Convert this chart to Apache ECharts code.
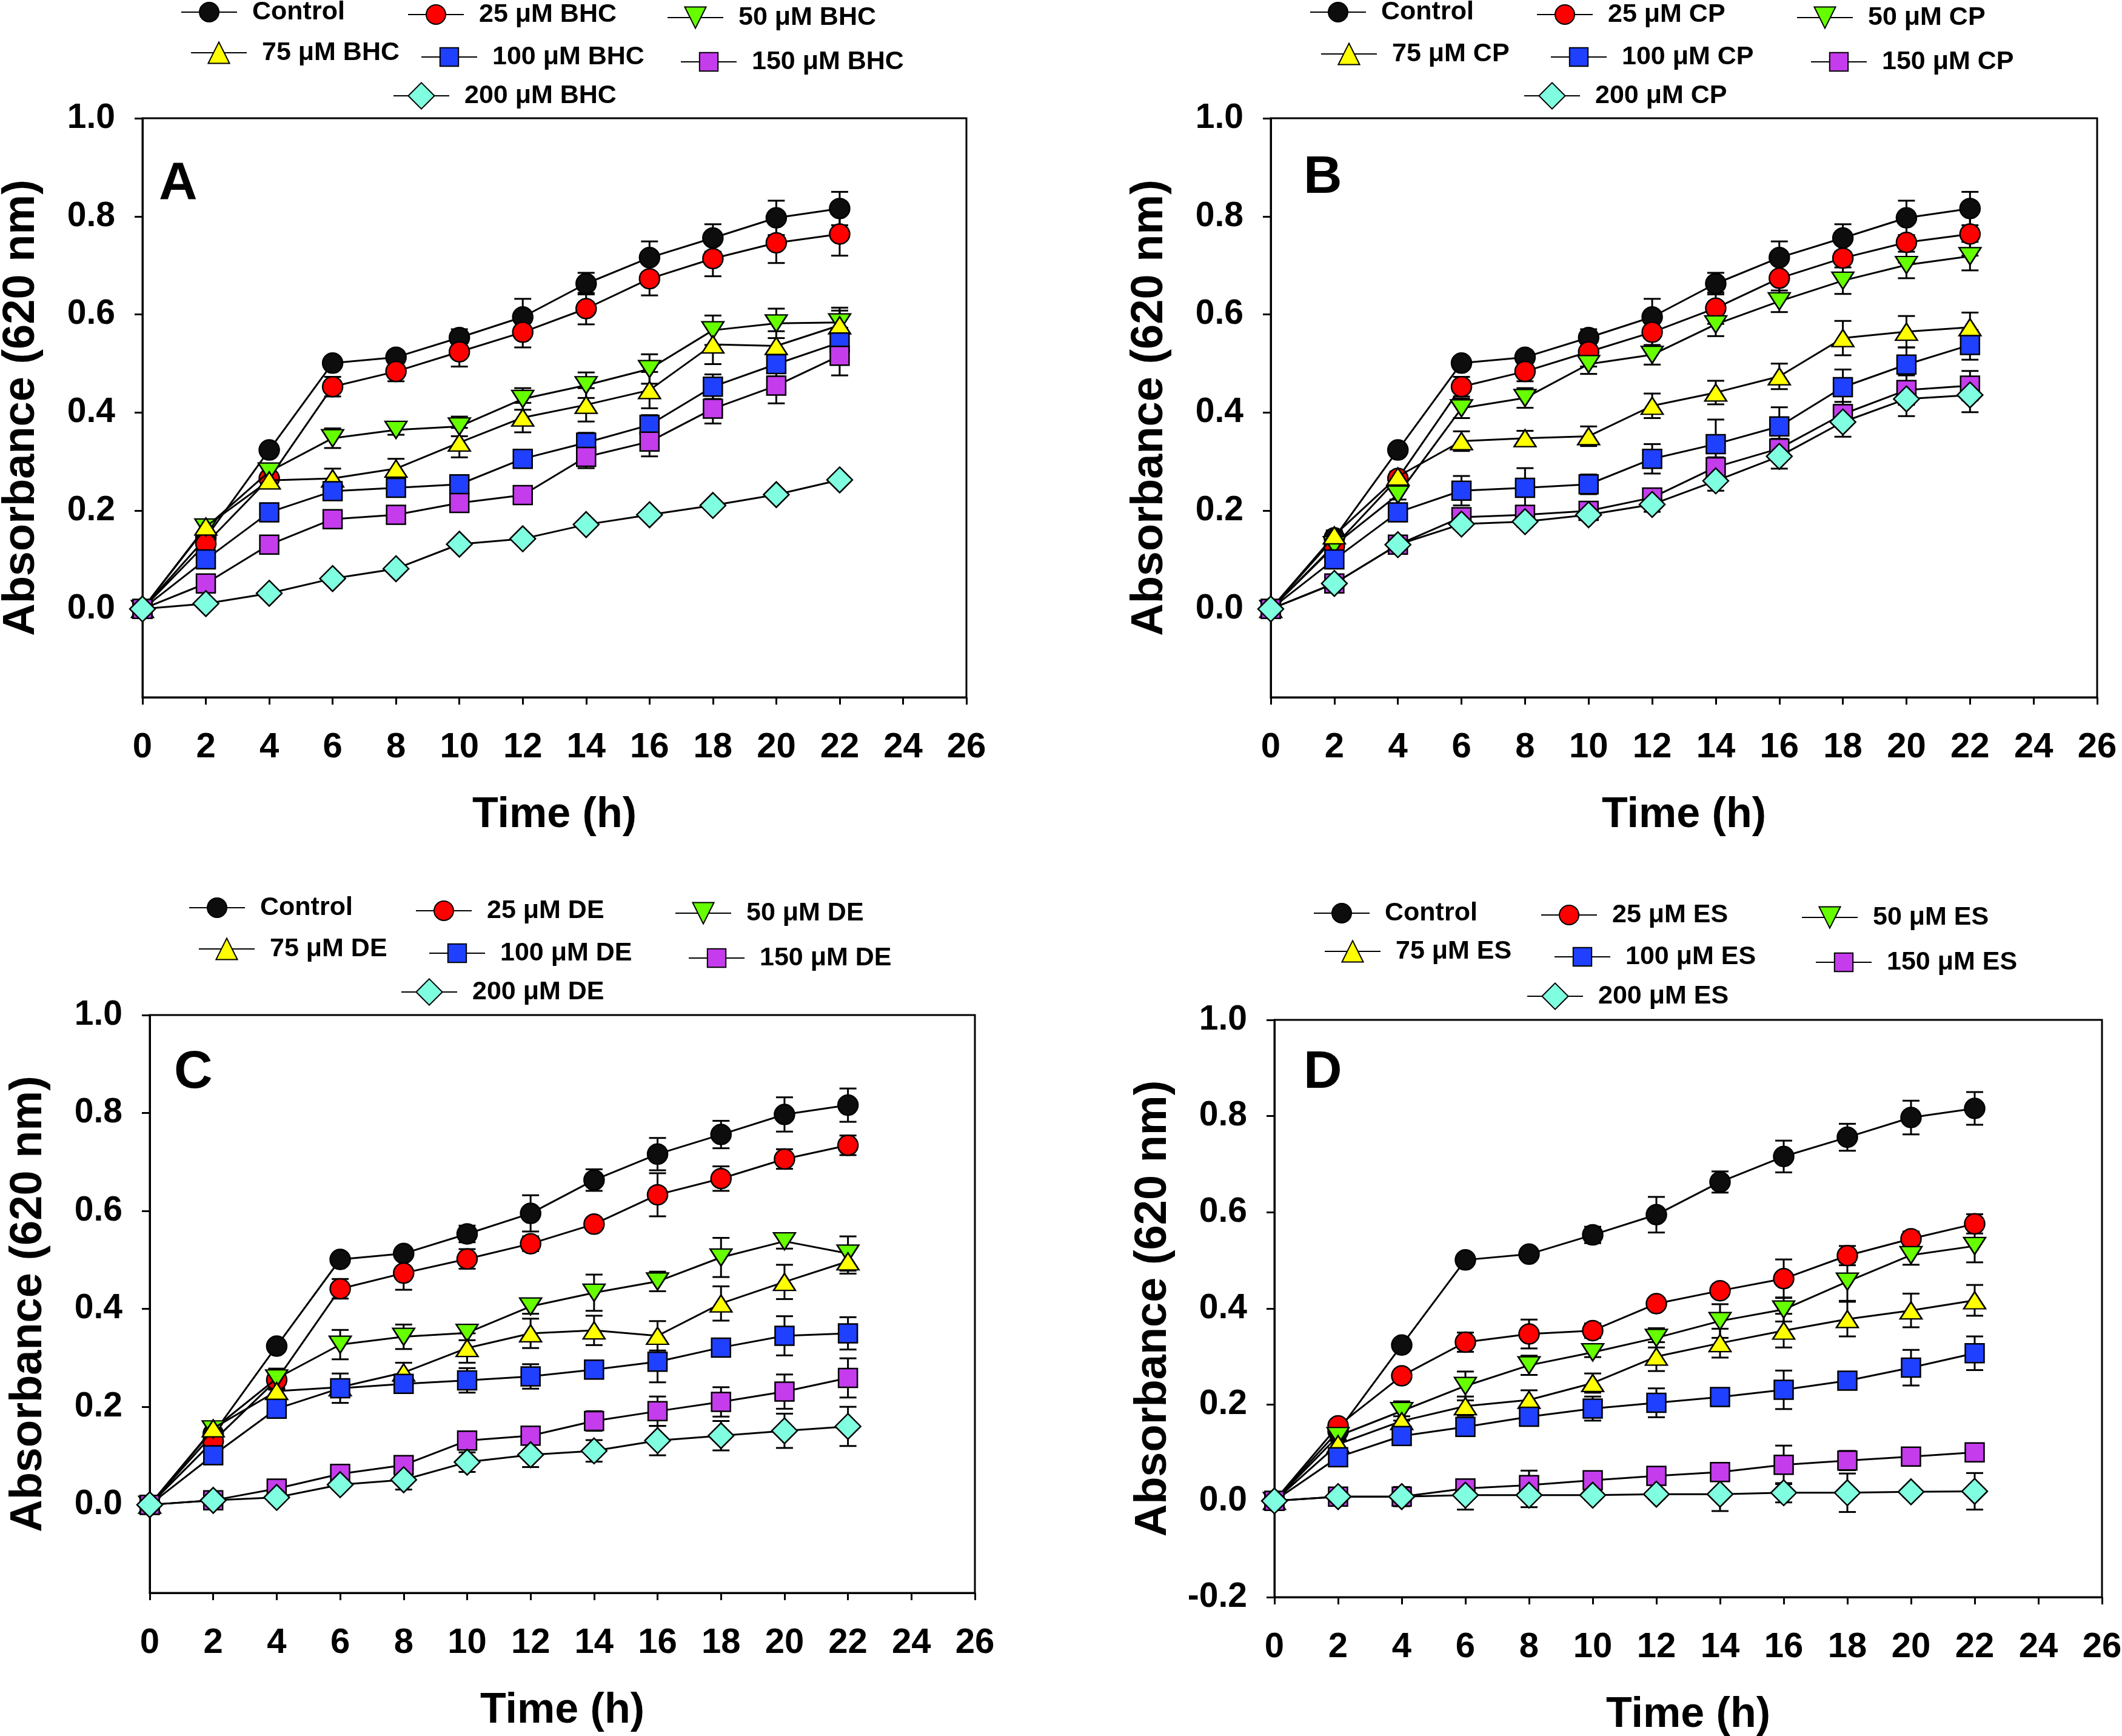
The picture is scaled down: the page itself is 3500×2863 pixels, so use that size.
<!DOCTYPE html>
<html>
<head>
<meta charset="utf-8">
<script src="https://cdn.jsdelivr.net/npm/echarts@6/dist/echarts.min.js"></script>
<style>html,body{margin:0;padding:0;background:#fff}#c{width:3500px;height:2863px}</style>
</head>
<body>
<div id="c"></div>
<script>
// ---------------- DATA ----------------
const time = [0, 2, 4, 6, 8, 10, 12, 14, 16, 18, 20, 22];
const xTicks = [0, 2, 4, 6, 8, 10, 12, 14, 16, 18, 20, 22, 24, 26];
const yTicksABC = [0, 0.2, 0.4, 0.6, 0.8, 1.0];
const yTicksD = [-0.2, 0, 0.2, 0.4, 0.6, 0.8, 1.0];
const seriesLabels = ['Control', '25 μM', '50 μM', '75 μM', '100 μM', '150 μM', '200 μM'];
const panelLetters = ['A', 'B', 'C', 'D'];
const compounds = ['BHC', 'CP', 'DE', 'ES'];

const control = [0, 0.145, 0.324, 0.501, 0.513, 0.553, 0.595, 0.663, 0.716, 0.756, 0.797, 0.816];
const controlErr = [0, 0.01, 0.01, 0.01, 0.01, 0.017, 0.037, 0.022, 0.033, 0.028, 0.035, 0.034];

// Panel A (BHC)
const bhc25 = [0, 0.133, 0.266, 0.453, 0.484, 0.524, 0.564, 0.612, 0.673, 0.714, 0.746, 0.764];
const bhc25Err = [0, 0.01, 0.01, 0.02, 0.02, 0.03, 0.031, 0.032, 0.034, 0.036, 0.041, 0.044];
const bhc50 = [0, 0.166, 0.28, 0.348, 0.365, 0.372, 0.428, 0.456, 0.489, 0.568, 0.582, 0.584];
const bhc50Err = [0, 0.01, 0.01, 0.02, 0.01, 0.02, 0.022, 0.026, 0.03, 0.03, 0.03, 0.03];
const bhc75 = [0, 0.168, 0.262, 0.266, 0.286, 0.339, 0.39, 0.416, 0.446, 0.539, 0.536, 0.578];
const bhc75Err = [0, 0.01, 0.01, 0.02, 0.02, 0.03, 0.03, 0.034, 0.037, 0.04, 0.03, 0.03];
const bhc100 = [0, 0.101, 0.197, 0.24, 0.247, 0.254, 0.306, 0.339, 0.375, 0.453, 0.499, 0.543];
const bhc100Err = [0, 0.01, 0.01, 0.015, 0.015, 0.015, 0.015, 0.02, 0.02, 0.025, 0.025, 0.03];
const bhc150 = [0, 0.052, 0.131, 0.183, 0.192, 0.216, 0.232, 0.31, 0.341, 0.408, 0.455, 0.516];
const bhc150Err = [0, 0.01, 0.01, 0.01, 0.01, 0.01, 0.01, 0.023, 0.03, 0.03, 0.036, 0.04];
const bhc200 = [0, 0.011, 0.032, 0.062, 0.082, 0.132, 0.143, 0.172, 0.192, 0.211, 0.233, 0.263];
const bhc200Err = [0, 0.008, 0.008, 0.008, 0.008, 0.008, 0.008, 0.008, 0.008, 0.008, 0.008, 0.008];

// Panel B (CP)
const cp25 = [0, 0.128, 0.266, 0.453, 0.484, 0.524, 0.564, 0.613, 0.674, 0.715, 0.747, 0.764];
const cp25Err = [0, 0.01, 0.01, 0.02, 0.02, 0.03, 0.031, 0.032, 0.034, 0.036, 0.041, 0.044];
const cp50 = [0, 0.13, 0.233, 0.409, 0.43, 0.499, 0.518, 0.58, 0.627, 0.669, 0.701, 0.719];
const cp50Err = [0, 0.01, 0.01, 0.02, 0.02, 0.02, 0.02, 0.024, 0.022, 0.027, 0.027, 0.029];
const cp75 = [0, 0.15, 0.27, 0.342, 0.348, 0.352, 0.414, 0.441, 0.474, 0.552, 0.565, 0.574];
const cp75Err = [0, 0.01, 0.01, 0.02, 0.015, 0.02, 0.025, 0.024, 0.026, 0.035, 0.032, 0.03];
const cp100 = [0, 0.101, 0.197, 0.241, 0.247, 0.254, 0.306, 0.336, 0.372, 0.452, 0.498, 0.538];
const cp100Err = [0, 0.01, 0.01, 0.03, 0.04, 0.02, 0.03, 0.05, 0.039, 0.036, 0.035, 0.03];
const cp150 = [0, 0.052, 0.131, 0.187, 0.192, 0.2, 0.227, 0.289, 0.327, 0.397, 0.446, 0.455];
const cp150Err = [0, 0.01, 0.01, 0.01, 0.01, 0.01, 0.015, 0.02, 0.02, 0.025, 0.03, 0.03];
const cp200 = [0, 0.052, 0.131, 0.173, 0.178, 0.192, 0.213, 0.261, 0.311, 0.381, 0.428, 0.436];
const cp200Err = [0, 0.01, 0.01, 0.01, 0.01, 0.01, 0.015, 0.02, 0.025, 0.03, 0.035, 0.035];

// Panel C (DE)
const de25 = [0, 0.13, 0.255, 0.441, 0.473, 0.502, 0.533, 0.573, 0.633, 0.666, 0.706, 0.734];
const de25Err = [0, 0.01, 0.02, 0.02, 0.034, 0.02, 0.015, 0.01, 0.044, 0.025, 0.02, 0.02];
const de50 = [0, 0.154, 0.258, 0.327, 0.343, 0.351, 0.405, 0.433, 0.456, 0.505, 0.538, 0.513];
const de50Err = [0, 0.01, 0.02, 0.03, 0.025, 0.015, 0.015, 0.037, 0.02, 0.04, 0.015, 0.035];
const de75 = [0, 0.156, 0.232, 0.24, 0.27, 0.32, 0.35, 0.356, 0.345, 0.411, 0.455, 0.497];
const de75Err = [0, 0.01, 0.02, 0.01, 0.02, 0.03, 0.03, 0.03, 0.03, 0.035, 0.035, 0.025];
const de100 = [0, 0.101, 0.196, 0.238, 0.247, 0.254, 0.262, 0.276, 0.292, 0.321, 0.345, 0.35];
const de100Err = [0, 0.01, 0.01, 0.03, 0.01, 0.025, 0.025, 0.01, 0.042, 0.01, 0.04, 0.033];
const de150 = [0, 0.009, 0.033, 0.063, 0.081, 0.131, 0.141, 0.171, 0.191, 0.21, 0.231, 0.259];
const de150Err = [0, 0.01, 0.01, 0.01, 0.01, 0.01, 0.01, 0.02, 0.03, 0.03, 0.035, 0.04];
const de200 = [0, 0.009, 0.015, 0.041, 0.051, 0.087, 0.102, 0.11, 0.131, 0.141, 0.151, 0.16];
const de200Err = [0, 0.01, 0.01, 0.01, 0.02, 0.02, 0.025, 0.022, 0.03, 0.03, 0.035, 0.04];

// Panel D (ES)
const es25 = [0, 0.156, 0.26, 0.33, 0.347, 0.354, 0.41, 0.437, 0.462, 0.51, 0.545, 0.576];
const es25Err = [0, 0.01, 0.01, 0.02, 0.03, 0.015, 0.01, 0.01, 0.04, 0.02, 0.015, 0.02];
const es50 = [0, 0.135, 0.187, 0.239, 0.282, 0.309, 0.339, 0.374, 0.398, 0.456, 0.511, 0.53];
const es50Err = [0, 0.01, 0.02, 0.03, 0.02, 0.01, 0.02, 0.035, 0.025, 0.04, 0.02, 0.034];
const es75 = [0, 0.118, 0.166, 0.197, 0.21, 0.245, 0.3, 0.328, 0.354, 0.378, 0.396, 0.417];
const es75Err = [0, 0.01, 0.01, 0.02, 0.02, 0.02, 0.03, 0.03, 0.035, 0.036, 0.035, 0.032];
const es100 = [0, 0.091, 0.135, 0.154, 0.175, 0.192, 0.204, 0.216, 0.231, 0.25, 0.277, 0.307];
const es100Err = [0, 0.01, 0.01, 0.01, 0.01, 0.025, 0.03, 0.01, 0.04, 0.01, 0.037, 0.035];
const es150 = [0, 0.009, 0.009, 0.026, 0.033, 0.043, 0.052, 0.06, 0.075, 0.084, 0.092, 0.101];
const es150Err = [0, 0.01, 0.01, 0.01, 0.03, 0.01, 0.01, 0.01, 0.04, 0.02, 0.01, 0.015];
const es200 = [0, 0.009, 0.009, 0.012, 0.012, 0.012, 0.014, 0.014, 0.017, 0.017, 0.019, 0.02];
const es200Err = [0, 0.01, 0.02, 0.03, 0.025, 0.01, 0.01, 0.035, 0.02, 0.04, 0.01, 0.038];

const panelValues = [
  [control, bhc25, bhc50, bhc75, bhc100, bhc150, bhc200],
  [control, cp25, cp50, cp75, cp100, cp150, cp200],
  [control, de25, de50, de75, de100, de150, de200],
  [control, es25, es50, es75, es100, es150, es200]
];
const panelErrors = [
  [controlErr, bhc25Err, bhc50Err, bhc75Err, bhc100Err, bhc150Err, bhc200Err],
  [controlErr, cp25Err, cp50Err, cp75Err, cp100Err, cp150Err, cp200Err],
  [controlErr, de25Err, de50Err, de75Err, de100Err, de150Err, de200Err],
  [controlErr, es25Err, es50Err, es75Err, es100Err, es150Err, es200Err]
];

// ---------------- STYLE / LAYOUT ----------------
const FONT = '"Liberation Sans", Arial, Helvetica, sans-serif';
const colors = ['#0d0d0d', '#ff0000', '#66ff00', '#ffff00', '#1f40ff', '#c43cec', '#80ffe0'];
const symbolList = ['circle', 'circle', 'path://M0,0L10,0L5,10Z', 'triangle', 'rect', 'rect', 'diamond'];
const symbolSizes = [33, 33, [36, 28], [36, 28], 31, 31, 42];
const legendItemH = [40, 40, 44, 44, 38, 38, 54];

const grids = [
  {left: 235, top: 195, width: 1359, height: 955},
  {left: 2096, top: 195, width: 1363, height: 955},
  {left: 247, top: 1674, width: 1361, height: 953},
  {left: 2102, top: 1682, width: 1365, height: 952}
];
const yMins = [-0.18, -0.18, -0.18, -0.2];
const letterPos = [[262, 260], [2150, 250], [287, 1726], [2150, 1726]];
// legend item positions: [line start x, center y]
const legendPos = [
  [[298, 20], [672, 24], [1100, 29], [314, 87], [694, 94], [1122, 102], [648, 161]],
  [[2160, 20], [2534, 24], [2963, 29], [2178, 89], [2557, 94], [2986, 102], [2513, 161]],
  [[311, 1497], [685, 1502], [1113, 1506], [327, 1565], [707, 1572], [1135, 1580], [661, 1639]],
  [[2166, 1506], [2541, 1509], [2971, 1513], [2184, 1569], [2563, 1578], [2994, 1587], [2518, 1646]]
];

function seriesName(p, s) {
  return s === 0 ? 'Control' : seriesLabels[s] + ' ' + compounds[p];
}

const option = {
  animation: false,
  backgroundColor: '#fff',
  grid: [], xAxis: [], yAxis: [], series: [], legend: [], graphic: []
};

grids.forEach((g, p) => {
  option.grid.push(Object.assign({show: true, borderColor: '#000', borderWidth: 3,
    backgroundColor: 'transparent', containLabel: false, outerBoundsMode: 'none'}, g));
  option.xAxis.push({
    type: 'value', gridIndex: p, min: 0, max: 26, interval: 2,
    axisLine: {show: true, onZero: false, lineStyle: {color: '#000', width: 3}},
    axisTick: {show: true, inside: false, length: 12, lineStyle: {color: '#000', width: 3}},
    axisLabel: {margin: 54, fontSize: 58, fontWeight: 'bold', fontFamily: FONT, color: '#000'},
    splitLine: {show: false},
    name: 'Time (h)', nameLocation: 'middle', nameGap: 160,
    nameTextStyle: {fontSize: 70, fontWeight: 'bold', fontFamily: FONT, color: '#000'}
  });
  const ticks = p === 3 ? yTicksD : yTicksABC;
  option.yAxis.push({
    type: 'value', gridIndex: p, min: yMins[p], max: 1.0,
    axisLine: {show: true, onZero: false, lineStyle: {color: '#000', width: 3}},
    axisTick: {show: true, inside: false, length: 13, lineStyle: {color: '#000', width: 3}, customValues: ticks},
    axisLabel: {customValues: ticks, formatter: v => (Math.abs(v) < 1e-9 ? 0 : v).toFixed(1),
      margin: 45, fontSize: 57, fontWeight: 'bold', fontFamily: FONT, color: '#000'},
    splitLine: {show: false},
    name: 'Absorbance (620 nm)', nameLocation: 'middle', nameGap: 162, nameRotate: 90,
    nameTextStyle: {fontSize: 74, fontWeight: 'bold', fontFamily: FONT, color: '#000'}
  });

  const vals = panelValues[p];
  const errs = panelErrors[p];
  // error bars
  vals.forEach((v, s) => {
    option.series.push({
      type: 'custom', xAxisIndex: p, yAxisIndex: p, z: 2, silent: true,
      data: time.map((t, i) => [t, v[i] - errs[s][i], v[i] + errs[s][i], errs[s][i]]),
      encode: {x: 0, y: [1, 2]},
      renderItem: (params, api) => {
        if (api.value(3) <= 0) return null;
        const x = api.value(0);
        const lo = api.coord([x, api.value(1)]);
        const hi = api.coord([x, api.value(2)]);
        const w = 14;
        const st = {stroke: '#000', lineWidth: 3};
        return {type: 'group', children: [
          {type: 'line', shape: {x1: lo[0], y1: lo[1], x2: hi[0], y2: hi[1]}, style: st},
          {type: 'line', shape: {x1: lo[0] - w, y1: lo[1], x2: lo[0] + w, y2: lo[1]}, style: st},
          {type: 'line', shape: {x1: hi[0] - w, y1: hi[1], x2: hi[0] + w, y2: hi[1]}, style: st}
        ]};
      }
    });
  });
  // lines + markers
  vals.forEach((v, s) => {
    const name = seriesName(p, s);
    option.series.push({
      type: 'line', name, xAxisIndex: p, yAxisIndex: p, z: 3 + s * 0.01,
      data: time.map((t, i) => [t, v[i]]),
      symbol: symbolList[s], symbolSize: symbolSizes[s], showAllSymbol: true,
      itemStyle: {color: colors[s], borderColor: '#000', borderWidth: 2.5, opacity: 1},
      lineStyle: {color: '#000', width: 3},
      emphasis: {disabled: true}, clip: false
    });
    const lp = legendPos[p][s];
    const ih = legendItemH[s];
    option.legend.push({
      left: lp[0], top: lp[1] - Math.max(ih / 2, 24), padding: 0, itemWidth: 92, itemHeight: ih,
      selectedMode: false, data: [name],
      itemStyle: {borderWidth: 2},
      textStyle: {fontSize: 43, fontWeight: 'bold', fontFamily: FONT, color: '#000',
        lineHeight: 48, padding: [0, 0, 0, 20]}
    });
  });
  option.graphic.push({
    type: 'text', left: letterPos[p][0], top: letterPos[p][1], z: 10,
    style: {text: panelLetters[p], font: 'bold 88px ' + FONT, fill: '#000'}
  });
});

const chart = echarts.init(document.getElementById('c'), null, {renderer: 'canvas'});
chart.setOption(option);
</script>
</body>
</html>
